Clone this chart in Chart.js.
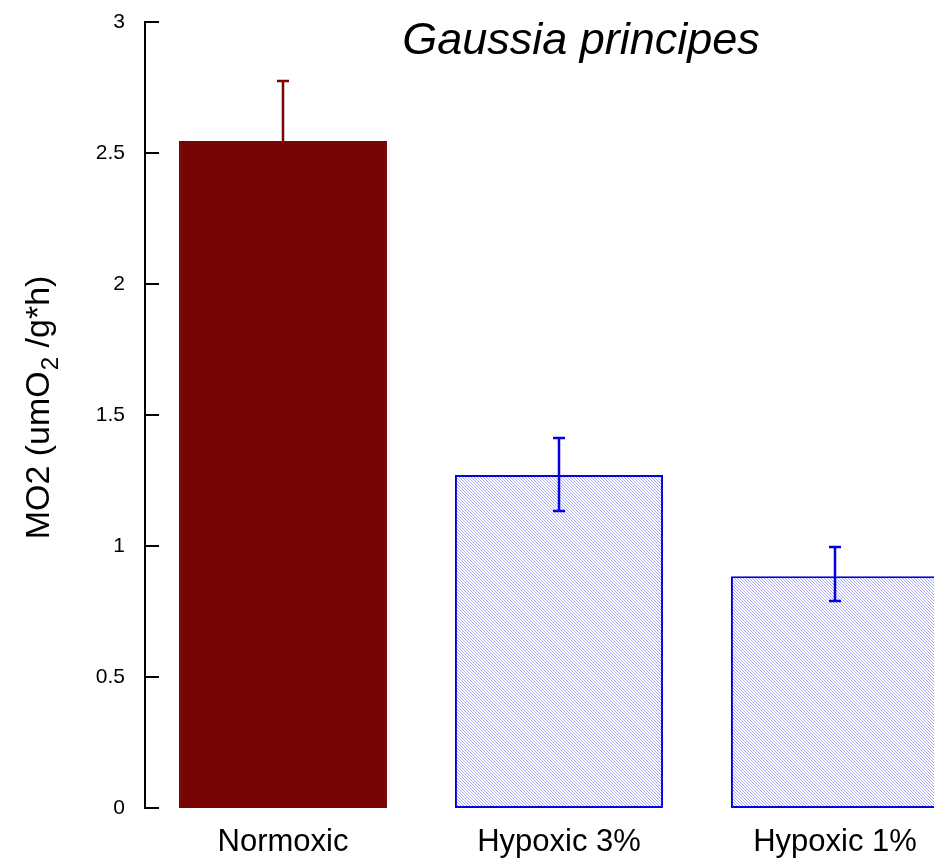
<!DOCTYPE html>
<html lang="en">
<head>
    <meta charset="UTF-8">
    <title>Gaussia principes</title>
    <script src="https://cdn.jsdelivr.net/npm/chart.js"></script>
    <style>
        html, body {
            margin: 0;
            padding: 0;
            background: white;
            overflow: hidden;
        }
        .chart-box {
            position: relative;
            width: 980px;
            height: 859px;
        }
    </style>
</head>
<body>
    <div class="chart-box">
        <canvas id="barChart"></canvas>
    </div>

    <script>
        // data
        const categories = ["Normoxic", "Hypoxic 3%", "Hypoxic 1%"];
        const mo2Values = [2.546, 1.271, 0.885];
        const errLow = [null, 1.134, 0.790];
        const errHigh = [2.775, 1.412, 0.996];
        const yTicks = [0, 0.5, 1, 1.5, 2, 2.5, 3];

        const darkRed = "rgb(120, 4, 4)";
        const blue = "rgb(0, 0, 225)";

        // hatch fill for the hypoxic bars
        function makeHatch() {
            const c = document.createElement('canvas');
            c.width = 3;
            c.height = 3;
            const g = c.getContext('2d');
            g.fillStyle = 'white';
            g.fillRect(0, 0, 3, 3);
            g.fillStyle = 'rgba(40, 40, 225, 0.4)';
            g.fillRect(0, 0, 1, 1);
            g.fillRect(1, 1, 1, 1);
            g.fillRect(2, 2, 1, 1);
            return g.createPattern(c, 'repeat');
        }
        const hatch = makeHatch();

        const barColors = [darkRed, hatch, hatch];
        const borderColors = [darkRed, blue, blue];
        const errColors = [darkRed, blue, blue];

        const FONT = '"Liberation Sans", Arial, sans-serif';

        // error bars, inward ticks, title and y label
        const extrasPlugin = {
            id: 'extras',
            afterDatasetsDraw(chart) {
                const ctx = chart.ctx;
                const xs = chart.scales.x;
                const ys = chart.scales.y;
                ctx.save();
                ctx.lineWidth = 2.5;
                for (let i = 0; i < categories.length; i++) {
                    const x = xs.getPixelForValue(i);
                    const top = ys.getPixelForValue(errHigh[i]);
                    const bot = errLow[i] === null ? ys.getPixelForValue(mo2Values[i]) : ys.getPixelForValue(errLow[i]);
                    ctx.strokeStyle = errColors[i];
                    ctx.beginPath();
                    ctx.moveTo(x, top);
                    ctx.lineTo(x, bot);
                    ctx.moveTo(x - 6, top);
                    ctx.lineTo(x + 6, top);
                    if (errLow[i] !== null) {
                        ctx.moveTo(x - 6, bot);
                        ctx.lineTo(x + 6, bot);
                    }
                    ctx.stroke();
                }
                // ticks pointing into the plot
                ctx.strokeStyle = 'black';
                ctx.lineWidth = 2;
                const left = chart.chartArea.left;
                yTicks.forEach(v => {
                    const y = ys.getPixelForValue(v);
                    ctx.beginPath();
                    ctx.moveTo(left, y);
                    ctx.lineTo(left + 14, y);
                    ctx.stroke();
                });
                // title
                ctx.fillStyle = 'black';
                ctx.font = 'italic 45px ' + FONT;
                ctx.textAlign = 'center';
                ctx.textBaseline = 'alphabetic';
                ctx.fillText('Gaussia principes', 581, 54);
                // y axis label with subscript
                ctx.translate(49, 408);
                ctx.rotate(-Math.PI / 2);
                const mainFont = '34px ' + FONT;
                const subFont = '24px ' + FONT;
                ctx.textAlign = 'left';
                const p1 = 'MO2 (umO';
                const p2 = '2';
                const p3 = ' /g*h)';
                ctx.font = mainFont;
                const w1 = ctx.measureText(p1).width;
                const w3 = ctx.measureText(p3).width;
                ctx.font = subFont;
                const w2 = ctx.measureText(p2).width;
                const x0 = -(w1 + w2 + w3) / 2;
                ctx.font = mainFont;
                ctx.fillText(p1, x0, 0);
                ctx.font = subFont;
                ctx.fillText(p2, x0 + w1 + 1, 9);
                ctx.font = mainFont;
                ctx.fillText(p3, x0 + w1 + w2 + 1, 0);
                ctx.restore();
            }
        };

        const barCtx = document.getElementById('barChart').getContext('2d');
        const barChart = new Chart(barCtx, {
            type: 'bar',
            data: {
                labels: categories,
                datasets: [{
                    data: mo2Values,
                    backgroundColor: barColors,
                    borderColor: borderColors,
                    borderWidth: 2,
                    borderSkipped: false,
                    categoryPercentage: 1,
                    barPercentage: 0.754
                }]
            },
            options: {
                responsive: true,
                maintainAspectRatio: false,
                animation: false,
                layout: {
                    padding: { top: 22, right: 7, left: 0, bottom: 0 }
                },
                plugins: {
                    legend: { display: false },
                    tooltip: { enabled: false }
                },
                scales: {
                    x: {
                        grid: { display: false, drawTicks: false },
                        border: { display: false },
                        ticks: {
                            color: 'black',
                            padding: 16,
                            font: { family: FONT, size: 31 }
                        },
                        afterFit(scale) {
                            scale.height = 51;
                            scale.paddingLeft = 0;
                            scale.paddingRight = 0;
                        }
                    },
                    y: {
                        min: 0,
                        max: 3,
                        afterBuildTicks(scale) {
                            scale.ticks = yTicks.map(v => ({ value: v }));
                        },
                        grid: { display: false, drawTicks: false },
                        border: { display: true, color: 'black', width: 2 },
                        ticks: {
                            color: 'black',
                            padding: 20,
                            font: { family: FONT, size: 21 },
                            callback: v => String(v)
                        },
                        afterFit(scale) {
                            scale.width = 145;
                            scale.paddingTop = 0;
                            scale.paddingBottom = 0;
                        }
                    }
                }
            },
            plugins: [extrasPlugin]
        });
    </script>
</body>
</html>
